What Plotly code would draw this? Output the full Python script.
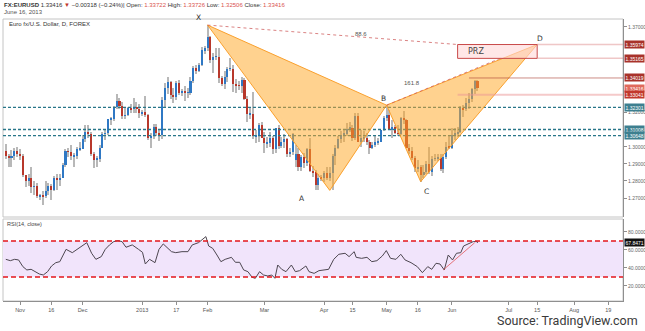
import pandas as pd
import plotly.graph_objects as go

# ---------------- data (EUR/USD daily) ----------------
opens = [
    1.2975,1.2945,1.2940,1.2945,1.2975,
    1.2960,1.2945,1.2835,1.2800,1.2815,1.2765,1.2770,1.2710,1.2715,1.2710,1.2740,1.2770,1.2745,1.2815,1.2810,1.2820,1.2895,1.2975,1.2970,1.2945,1.2945,1.2985,
    1.2985,1.3045,1.3085,1.3075,1.2955,1.2925,1.2930,1.2995,1.3075,1.3080,1.3160,1.3165,1.3235,1.3270,1.3240,1.3180,1.3185,1.3225,1.3220,1.3235,1.3220,
    1.3195,1.3205,1.3185,1.3050,1.3065,1.3115,1.3080,1.3070,1.3275,1.3345,1.3380,1.3305,1.3290,1.3375,1.3315,1.3320,1.3315,1.3315,1.3385,1.3460,1.3445,1.3475,1.3565,
    1.3575,1.3640,1.3505,1.3525,1.3525,1.3400,1.3365,1.3405,1.3455,1.3455,1.3365,1.3360,1.3355,1.3390,1.3280,1.3190,1.3190,1.3060,1.3070,1.3130,
    1.3050,1.3020,1.3020,1.3050,1.2985,1.3110,1.3005,1.3030,1.3045,1.2955,1.2970,1.2920,1.2960,1.2880,1.2940,1.2905,1.2985,1.2860,1.2850,1.2775,1.2820,
    1.2815,1.2845,1.2815,1.2845,1.2945,1.2995,1.3045,1.3070,1.3075,1.3105,1.3110,1.3050,1.3180,1.3030,1.3050,1.3050,1.3025,1.2990,1.3010,1.3025,1.3030,1.3095,
    1.3170,1.3185,1.3095,1.3115,1.3080,1.3075,1.3170,1.3155,1.2995,1.2975,1.2935,1.2875,1.2880,1.2835,1.2855,1.2900,1.2855,1.2930,1.2930,1.2935,1.2870,1.2940,1.3000,
    1.2995,1.3070,1.3080,1.3085,1.3225,1.3220,1.3255,1.3280,1.3340,1.3385,
]
highs = [
    1.3015,1.2960,1.2980,1.2995,1.3000,
    1.2985,1.2960,1.2830,1.2840,1.2880,1.2800,1.2790,1.2725,1.2740,1.2800,1.2790,1.2780,1.2830,1.2840,1.2840,1.2905,1.2985,1.2990,1.3010,1.2965,1.3000,1.3030,
    1.3070,1.3125,1.3130,1.3085,1.2970,1.2945,1.3010,1.3085,1.3095,1.3165,1.3175,1.3240,1.3310,1.3285,1.3260,1.3225,1.3230,1.3250,1.3285,1.3260,1.3250,
    1.3215,1.3295,1.3190,1.3080,1.3135,1.3135,1.3095,1.3290,1.3370,1.3405,1.3385,1.3345,1.3385,1.3390,1.3335,1.3355,1.3345,1.3405,1.3470,1.3480,1.3490,1.3585,1.3590,
    1.3711,1.3645,1.3545,1.3575,1.3575,1.3415,1.3445,1.3465,1.3520,1.3475,1.3395,1.3385,1.3410,1.3400,1.3295,1.3225,1.3320,1.3100,1.3140,1.3145,
    1.3085,1.3055,1.3085,1.3065,1.3110,1.3125,1.3055,1.3075,1.3050,1.2995,1.3080,1.3010,1.2995,1.2950,1.2965,1.2995,1.3050,1.2885,1.2865,1.2840,1.2835,
    1.2860,1.2880,1.2880,1.2955,1.3010,1.3060,1.3090,1.3105,1.3140,1.3145,1.3130,1.3200,1.3200,1.3095,1.3090,1.3080,1.3040,1.3025,1.3065,1.3050,1.3100,1.3180,
    1.3243,1.3215,1.3155,1.3125,1.3125,1.3175,1.3210,1.3160,1.3015,1.3000,1.2945,1.2920,1.2895,1.2895,1.2915,1.3000,1.2945,1.2960,1.2955,1.2960,1.2955,1.3030,1.3060,
    1.3110,1.3110,1.3115,1.3240,1.3245,1.3285,1.3315,1.3345,1.3390,1.3390,
]
lows = [
    1.2930,1.2880,1.2880,1.2920,1.2940,
    1.2920,1.2825,1.2765,1.2770,1.2730,1.2720,1.2700,1.2690,1.2660,1.2700,1.2720,1.2690,1.2740,1.2750,1.2770,1.2815,1.2880,1.2940,1.2920,1.2880,1.2930,1.2975,
    1.2985,1.3030,1.3050,1.2945,1.2875,1.2880,1.2910,1.2990,1.3040,1.3070,1.3130,1.3150,1.3220,1.3220,1.3160,1.3165,1.3180,1.3195,1.3200,1.3200,1.3170,
    1.3180,1.3175,1.3040,1.2995,1.3045,1.3060,1.3035,1.3045,1.3235,1.3310,1.3280,1.3255,1.3275,1.3300,1.3295,1.3265,1.3285,1.3300,1.3370,1.3425,1.3435,1.3470,1.3540,
    1.3560,1.3490,1.3430,1.3505,1.3370,1.3355,1.3340,1.3380,1.3440,1.3320,1.3315,1.3330,1.3315,1.3275,1.3145,1.3160,1.3045,1.3020,1.3025,1.3050,
    1.2965,1.2990,1.3000,1.2955,1.2965,1.2985,1.2990,1.2995,1.2940,1.2940,1.2950,1.2880,1.2860,1.2860,1.2875,1.2885,1.2855,1.2825,1.2750,1.2750,1.2800,
    1.2795,1.2805,1.2800,1.2745,1.2895,1.2985,1.3020,1.3030,1.3060,1.3085,1.3035,1.3040,1.3025,1.3000,1.3030,1.3010,1.2955,1.2985,1.3000,1.3010,1.3025,1.3090,
    1.3150,1.3095,1.3050,1.3075,1.3060,1.3070,1.3135,1.2990,1.2955,1.2920,1.2855,1.2850,1.2796,1.2820,1.2840,1.2840,1.2830,1.2915,1.2915,1.2860,1.2845,1.2930,1.2985,
    1.2985,1.3040,1.3055,1.3080,1.3175,1.3210,1.3220,1.3260,1.3310,1.3325,
]
closes = [
    1.2945,1.2940,1.2945,1.2975,1.2960,
    1.2945,1.2835,1.2800,1.2815,1.2765,1.2770,1.2710,1.2715,1.2710,1.2740,1.2770,1.2745,1.2815,1.2810,1.2820,1.2895,1.2975,1.2970,1.2945,1.2945,1.2985,1.2985,
    1.3045,1.3085,1.3075,1.2955,1.2925,1.2930,1.2995,1.3075,1.3080,1.3160,1.3165,1.3235,1.3270,1.3240,1.3180,1.3185,1.3225,1.3220,1.3235,1.3220,1.3195,
    1.3205,1.3185,1.3050,1.3065,1.3115,1.3080,1.3070,1.3275,1.3345,1.3380,1.3305,1.3290,1.3375,1.3315,1.3320,1.3315,1.3315,1.3385,1.3460,1.3445,1.3475,1.3565,1.3575,
    1.3640,1.3505,1.3525,1.3525,1.3400,1.3365,1.3405,1.3455,1.3455,1.3365,1.3360,1.3355,1.3390,1.3280,1.3190,1.3190,1.3060,1.3070,1.3130,1.3050,
    1.3020,1.3020,1.3050,1.2985,1.3110,1.3005,1.3030,1.3045,1.2955,1.2970,1.3075,1.2960,1.2880,1.2940,1.2905,1.2985,1.2860,1.2850,1.2775,1.2820,1.2815,
    1.2845,1.2815,1.2845,1.2945,1.2995,1.3045,1.3070,1.3075,1.3105,1.3110,1.3050,1.3180,1.3030,1.3050,1.3050,1.3025,1.2990,1.3010,1.3025,1.3030,1.3095,1.3170,
    1.3185,1.3095,1.3115,1.3080,1.3075,1.3170,1.3155,1.2995,1.2975,1.2935,1.2875,1.2880,1.2835,1.2855,1.2900,1.2855,1.2930,1.2930,1.2935,1.2870,1.2940,1.3000,1.2995,
    1.3070,1.3080,1.3085,1.3225,1.3220,1.3255,1.3280,1.3340,1.3385,1.3342,
]

# RSI(14): bar position -> value
rsi_pos = [0,1.6,3.1,4.5,6.0,7.4,8.9,10.3,11.8,13.2,14.7,16.1,17.6,19.0,21.2,23.4,24.9,26.3,28.5,30.2,31.7,33.6,35.0,36.5,38.0,39.4,40.9,42.3,44.5,46.7,48.1,49.1,50.6,52.5,53.9,55.4,56.8,58.3,59.8,62.0,64.1,65.6,67.8,69.2,70.4,71.4,72.8,74.3,75.7,77.2,79.4,80.8,82.3,83.7,85.2,86.7,87.8,89.3,90.7,92.2,93.6,94.7,95.7,97.1,98.6,100.5,101.9,103.4,105.6,106.7,108.5,110.2,112.1,113.6,115.4,117.2,119.4,120.8,122.6,123.3,125.2,127.1,128.8,130.6,132.5,133.9,135.4,137.3,139.0,140.5,142.6,144.8,146.6,148.5,149.9,151.4,152.8,154.3,155.7,157.2,158.6,160.1,161.1,163.0,164.5,165.9,166.0]
rsi_val = [49.6,48.1,49.6,48.9,41.5,37.8,38.5,35.9,33.3,32.2,35.9,42.2,45.9,47.0,60.7,57.0,60.0,63.0,68.1,56.3,49.6,52.6,60.7,65.6,69.3,70.4,69.3,63.0,65.6,60.7,57.4,44.4,49.6,45.9,60.7,66.7,63.0,58.1,57.0,58.1,58.1,65.6,68.1,71.8,74.8,64.4,61.8,54.4,47.0,49.6,51.8,46.3,46.3,37.8,35.9,29.6,28.5,35.9,32.2,31.1,32.2,28.5,43.3,38.5,35.9,43.3,35.9,37.0,42.2,35.9,34.0,37.0,37.8,38.5,49.6,55.2,56.3,52.6,58.1,51.8,50.7,51.8,47.0,48.1,53.3,59.3,50.7,49.6,55.2,48.9,45.9,41.5,34.8,41.5,38.5,45.2,44.4,37.8,54.4,48.9,56.3,57.0,64.4,66.7,69.3,69.3,67.8471]
rsi_last = 67.8471

# harmonic pattern points
pattern_names = ["X", "A", "B", "C", "D"]
pattern_dates = ["2013-02-01", "2013-04-03", "2013-05-01", "2013-05-17", "2013-07-15"]
pattern_prices = [1.3711, 1.2745, 1.3243, 1.2796, 1.35974]

# levels
teal_levels = [1.32301, 1.31008, 1.30648]
prz_dates = ["2013-06-05", "2013-07-15"]
prz_prices = [1.35165, 1.35974]
fib_label_1 = "88.6"
fib_label_2 = "161.8"

label_levels = [1.35974, 1.35165, 1.34019, 1.33416, 1.33041, 1.32301, 1.31008, 1.30648]
label_colors = ["#a8322a", "#a8322a", "#a8322a", "#e06a5c", "#c2392d", "#3d7f8f", "#3d7f8f", "#3d7f8f"]

tick_dates = ["2012-11-01","2012-11-16","2012-12-03","2013-01-01","2013-01-17","2013-02-01",
              "2013-03-01","2013-04-01","2013-04-15","2013-05-01","2013-05-16","2013-06-03",
              "2013-07-01","2013-07-15","2013-08-01","2013-08-19"]
tick_text = ["Nov","16","Dec","2013","17","Feb","Mar","Apr","15","May","16","Jun","Jul","15","Aug","19"]

price_ticks = [1.27, 1.28, 1.29, 1.30, 1.32, 1.37]
rsi_ticks = [20, 40, 60, 80]

# ---------------- helpers ----------------
days = pd.bdate_range("2012-10-25", "2013-08-30")
def pos(d):
    return days.get_loc(pd.Timestamp(d))

n = len(closes)
bar_x = list(range(n))
W, H = 645, 331
def fx(px): return px / W
def fy(py): return 1 - py / H

x_range = [-0.99, 217.2]
main_dom = [fy(217), fy(19)]
rsi_dom = [fy(301), fy(219)]
x_dom = [fx(3), fx(623)]

UP, DOWN, WICK = "#2f78c4", "#b8382b", "#b8b8b8"
FONT = "Liberation Sans, Arial, sans-serif"

fig = go.Figure()

# wicks
fig.add_trace(go.Bar(x=bar_x, base=lows, y=[h - l for h, l in zip(highs, lows)],
                     width=0.38, marker=dict(color=WICK, line=dict(width=0)),
                     hoverinfo="skip", xaxis="x", yaxis="y"))
# bodies
fig.add_trace(go.Bar(x=bar_x, base=[min(o, c) for o, c in zip(opens, closes)],
                     y=[max(abs(c - o), 0.00025) for o, c in zip(opens, closes)],
                     width=0.72,
                     marker=dict(color=[UP if c >= o else DOWN for o, c in zip(opens, closes)],
                                 line=dict(width=0)),
                     hoverinfo="skip", xaxis="x", yaxis="y"))

# RSI
fig.add_trace(go.Scatter(x=rsi_pos, y=rsi_val, mode="lines",
                         line=dict(color="#4d4650", width=1),
                         hoverinfo="skip", xaxis="x2", yaxis="y2"))

shapes = []
# panel frames
shapes.append(dict(type="rect", xref="paper", yref="paper", x0=fx(3), x1=fx(623),
                   y0=main_dom[0], y1=main_dom[1], line=dict(color="#c4c4c4", width=1), layer="below"))
shapes.append(dict(type="rect", xref="paper", yref="paper", x0=fx(3), x1=fx(623),
                   y0=rsi_dom[0], y1=rsi_dom[1], line=dict(color="#c4c4c4", width=1), layer="below"))
# RSI band
shapes.append(dict(type="rect", xref="x2", yref="y2", x0=x_range[0], x1=x_range[1], y0=30, y1=70,
                   fillcolor="#f1e4fb", line=dict(width=0), layer="below"))
for lv in (70, 30):
    shapes.append(dict(type="line", xref="x2", yref="y2", x0=x_range[0], x1=x_range[1], y0=lv, y1=lv,
                       line=dict(color="#e3161d", width=1.5, dash="5px,3px")))

# teal support lines
for lv in teal_levels:
    shapes.append(dict(type="line", xref="x", yref="y", x0=x_range[0], x1=x_range[1], y0=lv, y1=lv,
                       line=dict(color="#287689", width=1.3, dash="3px,2px"), layer="above"))

px_ = [pos(d) for d in pattern_dates]
pp = pattern_prices
# XAB and BCD triangles
for tri in ((0, 1, 2), (2, 3, 4)):
    path = "M {},{} L {},{} L {},{} Z".format(px_[tri[0]], pp[tri[0]], px_[tri[1]], pp[tri[1]],
                                               px_[tri[2]], pp[tri[2]])
    shapes.append(dict(type="path", xref="x", yref="y", path=path,
                       fillcolor="rgba(255,168,40,0.52)", line=dict(color="rgba(250,160,45,1)", width=1),
                       layer="above"))

prz_x0, prz_x1 = pos(prz_dates[0]), pos(prz_dates[1])
# fib dotted lines
shapes.append(dict(type="line", xref="x", yref="y", x0=px_[0], y0=pp[0], x1=prz_x0, y1=prz_prices[1],
                   line=dict(color="rgba(205,90,90,0.75)", width=1, dash="dot"), layer="above"))
shapes.append(dict(type="line", xref="x", yref="y", x0=px_[2], y0=pp[2], x1=pos("2013-06-26"), y1=prz_prices[0],
                   line=dict(color="rgba(205,90,90,0.75)", width=1, dash="dot"), layer="above"))
# PRZ box
shapes.append(dict(type="rect", xref="x", yref="y", x0=prz_x0, x1=prz_x1, y0=prz_prices[0], y1=prz_prices[1],
                   fillcolor="rgba(255,215,215,0.6)", line=dict(color="#c94a4a", width=1), layer="above"))
# right-side level lines
shapes.append(dict(type="line", xref="x", yref="y", x0=prz_x1, x1=x_range[1], y0=prz_prices[1], y1=prz_prices[1],
                   line=dict(color="rgba(220,130,130,0.45)", width=1.5), layer="above"))
shapes.append(dict(type="line", xref="x", yref="y", x0=prz_x1, x1=x_range[1], y0=prz_prices[0], y1=prz_prices[0],
                   line=dict(color="rgba(220,130,130,0.45)", width=1.5), layer="above"))
shapes.append(dict(type="line", xref="x", yref="y", x0=pos("2013-06-11"), x1=x_range[1], y0=1.34019, y1=1.34019,
                   line=dict(color="rgba(170,60,50,0.75)", width=0.8), layer="above"))
shapes.append(dict(type="line", xref="x", yref="y", x0=pos("2013-06-05"), x1=x_range[1], y0=1.33041, y1=1.33041,
                   line=dict(color="rgba(235,150,150,0.5)", width=2), layer="above"))
# RSI trendline
shapes.append(dict(type="line", xref="x2", yref="y2", x0=pos("2013-05-29"), y0=38, x1=pos("2013-06-13"), y1=68,
                   line=dict(color="rgba(225,70,70,0.9)", width=0.8)))

ann = []
# header
hdr = ("<b>FX:EURUSD</b> 1.33416 <span style='color:#c0392b'>▼</span> −0.00318 (−0.24%)| "
       "Open: <span style='color:#d9534f'>1.33722</span> High: <span style='color:#d9534f'>1.33726</span> "
       "Low: <span style='color:#d9534f'>1.32506</span> Close: <span style='color:#d9534f'>1.33416</span>")
ann.append(dict(text=hdr, xref="paper", yref="paper", x=fx(2), y=fy(4.5), xanchor="left", yanchor="middle",
                showarrow=False, font=dict(size=6, color="#333", family=FONT)))
ann.append(dict(text="June 16, 2013", xref="paper", yref="paper", x=fx(2), y=fy(12), xanchor="left",
                yanchor="middle", showarrow=False, font=dict(size=6, color="#555", family=FONT)))
ann.append(dict(text="Euro fx/U.S. Dollar, D, FOREX", xref="paper", yref="paper", x=fx(7), y=fy(24.5),
                xanchor="left", yanchor="middle", showarrow=False, font=dict(size=6, color="#333", family=FONT)))
ann.append(dict(text="RSI(14, close)", xref="paper", yref="paper", x=fx(5), y=fy(224),
                xanchor="left", yanchor="middle", showarrow=False, font=dict(size=5.5, color="#444", family=FONT)))

# pattern letters
letter_offsets = {"X": (-9, 8), "A": (-28, -8), "B": (-3, 7), "C": (6, -10), "D": (3, 6)}
for nm, xi, yp in zip(pattern_names, px_, pp):
    dx, dy = letter_offsets[nm]
    ann.append(dict(text=nm, x=xi, y=yp, xref="x", yref="y", xshift=dx, yshift=dy, showarrow=False,
                    font=dict(size=7.5, color="#333", family="DejaVu Sans, sans-serif")))
ann.append(dict(text=fib_label_1, x=pos("2013-04-26") - 6, y=1.3660, xref="x", yref="y", showarrow=False,
                font=dict(size=6, color="#555", family=FONT)))
ann.append(dict(text=fib_label_2, x=pos("2013-05-13") + 1, y=1.3370, xref="x", yref="y", showarrow=False,
                font=dict(size=6, color="#555", family=FONT)))
ann.append(dict(text="PRZ", x=prz_x0 + 3, y=sum(prz_prices) / 2, xref="x", yref="y", xanchor="left",
                showarrow=False, font=dict(size=8, color="#444", family="DejaVu Sans, sans-serif")))

# price boxes on the right axis
for lv, col in zip(label_levels, label_colors):
    ann.append(dict(text="{:.5f}".format(lv), xref="paper", yref="y", x=fx(624), y=lv, xanchor="left",
                    yanchor="middle", showarrow=False, bgcolor=col, borderpad=0.5,
                    font=dict(size=5, color="white", family=FONT)))
ann.append(dict(text="{:.4f}".format(rsi_last), xref="paper", yref="y2", x=fx(624), y=rsi_last, xanchor="left",
                yanchor="middle", showarrow=False, bgcolor="#111", borderpad=0.5,
                font=dict(size=5, color="white", family=FONT)))

ann.append(dict(text="Source: TradingView.com", xref="paper", yref="paper", x=fx(640), y=fy(320),
                xanchor="right", yanchor="middle", showarrow=False,
                font=dict(size=12.5, color="#3a3a3a", family="Roboto, Liberation Sans, sans-serif")))

axis_font = dict(size=5, color="#666", family=FONT)
fig.update_layout(
    width=W, height=H, autosize=False, margin=dict(l=0, r=0, t=0, b=0),
    paper_bgcolor="white", plot_bgcolor="rgba(0,0,0,0)", showlegend=False, barmode="overlay",
    bargap=0,
    xaxis=dict(domain=x_dom, range=x_range, anchor="y", showticklabels=False, showgrid=False,
               zeroline=False, showline=False, ticks=""),
    yaxis=dict(domain=main_dom, range=[1.25895, 1.37465], side="right", anchor="x", showgrid=False,
               zeroline=False, showline=True, linecolor="#8f8f8f", linewidth=1, ticks="outside",
               ticklen=3, tickcolor="#8f8f8f", tickvals=price_ticks,
               ticktext=["{:.5f}".format(v) for v in price_ticks], tickfont=axis_font),
    xaxis2=dict(domain=x_dom, range=x_range, anchor="y2", showgrid=False, zeroline=False,
                showline=True, linecolor="#8f8f8f", linewidth=1, ticks="outside", ticklen=3,
                tickcolor="#8f8f8f", tickvals=[pos(d) for d in tick_dates], ticktext=tick_text,
                tickfont=dict(size=5.5, color="#555", family=FONT)),
    yaxis2=dict(domain=rsi_dom, range=[3.3, 94.4], side="right", anchor="x2", showgrid=False,
                zeroline=False, showline=True, linecolor="#8f8f8f", linewidth=1, ticks="outside",
                ticklen=3, tickcolor="#8f8f8f", tickvals=rsi_ticks,
                ticktext=["{:.4f}".format(v) for v in rsi_ticks], tickfont=axis_font),
    shapes=shapes, annotations=ann,
)

fig.write_html("out.html")
